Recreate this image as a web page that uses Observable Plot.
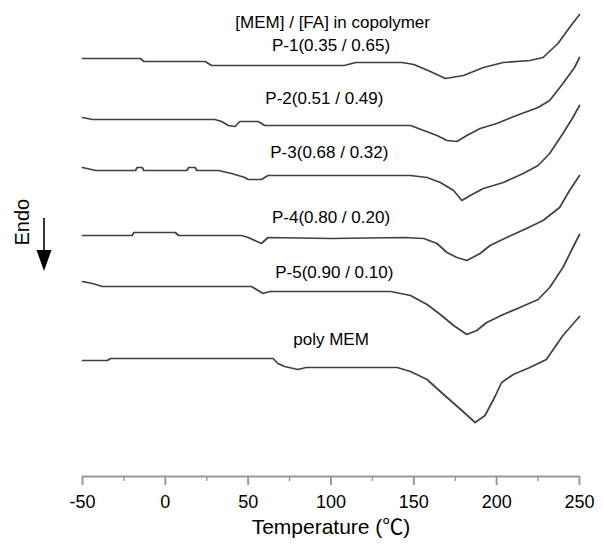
<!DOCTYPE html>
<html><head><meta charset="utf-8">
<script src="https://cdn.jsdelivr.net/npm/d3@7"></script>
<script src="https://cdn.jsdelivr.net/npm/@observablehq/plot@0.6"></script>
<style>
body{margin:0;background:#fff}
#chart svg{font-family:"Liberation Sans", Arial, "Noto Sans CJK JP", sans-serif;}
</style>
</head><body><div id="chart"></div>
<script>
// Temperature (°C) and heat flow (arbitrary units, curves offset)
const p1Temp = [-50, -15, -13, 24, 28, 108, 115, 143, 150, 160, 169, 180, 192, 204, 220, 228, 237, 244, 250];
const p1Flow = [418, 418, 415, 415, 411, 411, 414, 414, 412, 405, 398, 401, 409, 414, 416, 419, 433, 449, 462];

const p2Temp = [-50, -44, 30, 34, 38, 42, 45, 56, 60, 100, 148, 156, 164, 170, 176, 182, 190, 200, 212, 225, 232, 240, 247, 250];
const p2Flow = [359, 357, 357, 355, 351, 350, 355, 355, 351, 351, 351, 346, 341, 336, 335, 341, 348, 353, 361, 369, 376, 393, 409, 419];

const p3Temp = [-50, -42, -18, -17, -14, -13, 13, 14, 18, 19, 32, 40, 48, 50, 58, 62, 100, 148, 158, 166, 174, 179, 184, 192, 204, 216, 225, 232, 240, 246, 250];
const p3Flow = [309, 306, 306, 309, 309, 306, 306, 309, 309, 306, 306, 303, 299, 297, 297, 301, 301, 301, 299, 294, 286, 276, 281, 288, 294, 303, 311, 323, 343, 359, 371];

const p4Temp = [-50, -20, -19, 6, 8, 46, 50, 58, 62, 100, 144, 156, 164, 170, 176, 182, 190, 196, 206, 218, 228, 238, 244, 250];
const p4Flow = [241, 241, 244, 244, 241, 241, 239, 233, 239, 238, 239, 238, 233, 224, 219, 216, 223, 231, 239, 248, 256, 269, 286, 301];

const p5Temp = [-50, -44, -38, 52, 56, 59, 63, 136, 148, 158, 166, 174, 182, 188, 194, 204, 214, 225, 232, 240, 246, 250];
const p5Flow = [195, 193, 190, 190, 186, 183, 185, 185, 181, 172, 162, 151, 142, 146, 154, 162, 169, 177, 189, 209, 229, 242];

const pmTemp = [-50, -35, -33, 65, 68, 72, 80, 85, 140, 148, 158, 168, 179, 187, 193, 199, 203, 210, 220, 230, 240, 250];
const pmFlow = [116, 116, 118, 118, 113, 110, 107, 109, 109, 105, 97, 82, 66, 54, 61, 80, 94, 102, 109, 117, 141, 160];

const seriesNames = ["P-1", "P-2", "P-3", "P-4", "P-5", "poly MEM"];
const seriesTemps = [p1Temp, p2Temp, p3Temp, p4Temp, p5Temp, pmTemp];
const seriesFlows = [p1Flow, p2Flow, p3Flow, p4Flow, p5Flow, pmFlow];

// Curve labels (text, temperature position, heat-flow position)
const labelTexts = ["[MEM] / [FA] in copolymer", "P-1(0.35 / 0.65)", "P-2(0.51 / 0.49)", "P-3(0.68 / 0.32)", "P-4(0.80 / 0.20)", "P-5(0.90 / 0.10)", "poly MEM"];
const labelTemps = [101, 100, 96, 99, 100, 102, 100];
const labelFlows = [454, 431, 378, 324, 259, 204, 137];

const majorTicks = [-50, 0, 50, 100, 150, 200, 250];
const minorTicks = [-25, 25, 75, 125, 175, 225];
const xTitleMain = "Temperature (";
const xTitleUnit = "℃";
const xTitleEnd = ")";

const rows = [];
seriesNames.forEach((name, i) => {
  seriesTemps[i].forEach((t, j) => rows.push({series: name, t, v: seriesFlows[i][j]}));
});
const labels = labelTexts.map((text, i) => ({text, t: labelTemps[i], v: labelFlows[i]}));

const font = '"Liberation Sans", Arial, "Noto Sans CJK JP", sans-serif';
const chart = Plot.plot({
  width: 603, height: 546,
  marginLeft: 82, marginRight: 24, marginTop: 0, marginBottom: 70,
  x: {domain: [-50, 250], label: null},
  y: {domain: [0, 476], axis: null},
  style: {fontFamily: font, background: "#fff"},
  marks: [
    Plot.ruleY([0], {stroke: "#9a9a9a", strokeWidth: 2}),
    Plot.axisX(minorTicks, {tickSize: 5, text: null, stroke: "#9a9a9a", strokeWidth: 1.5, label: null}),
    Plot.axisX(majorTicks, {tickSize: 9, tickPadding: 10, fontSize: 18, stroke: "#9a9a9a", strokeWidth: 2, fill: "#000", tickFormat: d => String(d), label: null}),
    Plot.line(rows, {x: "t", y: "v", z: "series", stroke: "#404040", strokeWidth: 1.7, curve: "linear"}),
    Plot.text(labels, {x: "t", y: "v", text: "text", fontSize: 17, fill: "#000"}),
    Plot.text([xTitleMain + xTitleUnit + xTitleEnd], {frameAnchor: "bottom", dy: 57, fontSize: 21, fill: "#000", className: "xtitle"}),
    Plot.text(["Endo"], {frameAnchor: "left", dx: -60, y: [231], rotate: -90, fontSize: 20, fill: "#000"})
  ]
});
document.getElementById("chart").appendChild(chart);

const svg = d3.select(chart);
// Render the degree-Celsius sign with the CJK font, as in the original
svg.selectAll("g.xtitle text").each(function() {
  const t = d3.select(this);
  t.text(null);
  t.append("tspan").text(xTitleMain);
  t.append("tspan").style("font-family", '"Noto Sans CJK JP", sans-serif').text(xTitleUnit);
  t.append("tspan").text(xTitleEnd);
});

// "Endo" direction arrow (decoration)
svg.append("line").attr("x1", 44).attr("x2", 44).attr("y1", 218).attr("y2", 252)
  .attr("stroke", "#000").attr("stroke-width", 1.6);
svg.append("path").attr("d", "M36.5,250 L51.5,250 L44,271 Z").attr("fill", "#000");
</script>
</body></html>
